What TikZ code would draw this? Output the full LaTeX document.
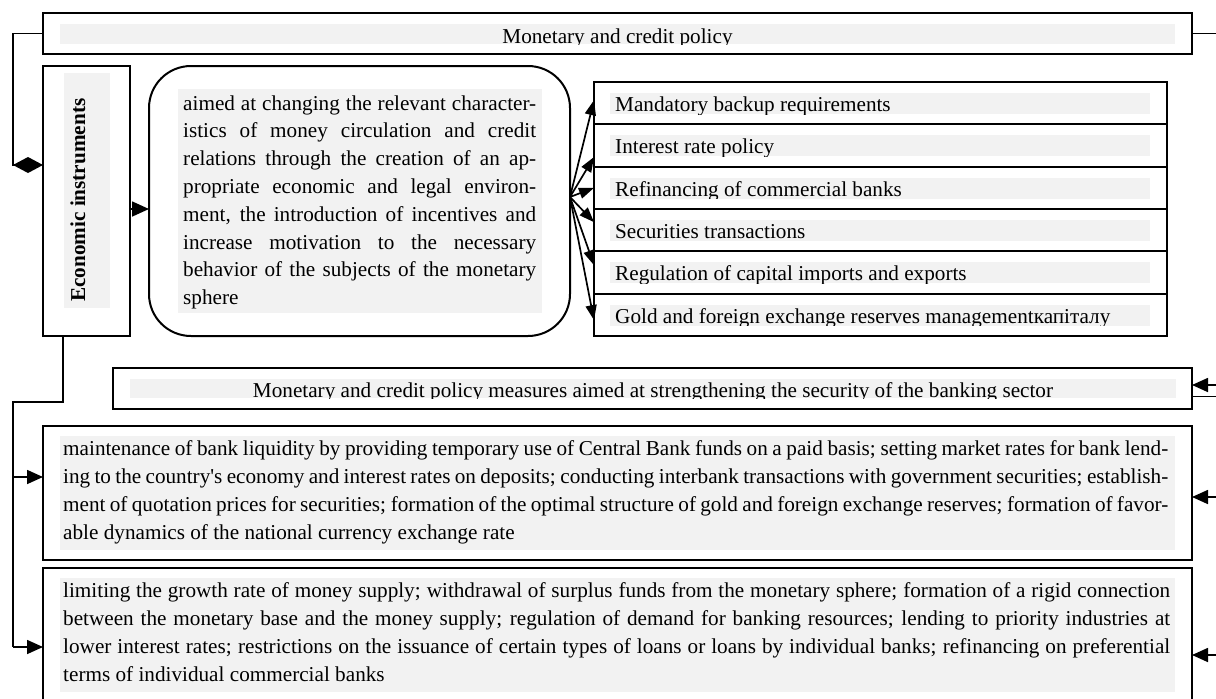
\documentclass[tikz,border=0pt]{standalone}
\usepackage{fontspec}
\setmainfont{Liberation Serif}[Ligatures=TeXOff]
\usetikzlibrary{arrows.meta}
\definecolor{gfill}{RGB}{242,242,242}
\newlength{\myW}
\newcommand{\myjl}[1]{\hbox to \myW{#1}}
\newcommand{\myll}[1]{\hbox{#1}}
\newcommand{\mypar}[3]{\vtop{\myW=#1\relax\baselineskip=#2\relax #3}}
\newcommand{\glab}[9]{%
  \begin{scope}
    \clip (#2,#3) rectangle (#4,#5);
    \fill[gfill] (#2,#3) rectangle (#4,#5);
    \node[inner sep=0pt, anchor=#6] (#1) at (#7,#8) {#9};
  \end{scope}}
\begin{document}
\begin{tikzpicture}[x=1pt, y=-1pt,
  font=\fontsize{21.2}{28}\selectfont,
  box/.style={draw, line width=2pt, inner sep=0pt, outer sep=0pt, anchor=north west},
  conn/.style={line width=1.7pt},
  arr/.style={conn, -{Triangle[length=16pt,width=14pt]}},
  fanarr/.style={conn, -{Triangle[length=15pt,width=11pt]}}]
\useasboundingbox (0,0) rectangle (1216,699);
\clip (0,0) rectangle (1216,699);
\fill[white] (0,0) rectangle (1216,699);

% ---- boxes ----
\node[box, minimum width=1149pt, minimum height=41pt] (top) at (43,13) {};
\node[box, minimum width=87pt, minimum height=270pt] (econ) at (43,66) {};
\node[box, rounded corners=42pt, minimum width=421pt, minimum height=270pt] (aim) at (149,66) {};
\foreach \i/\t in {1/82,2/124.33,3/166.67,4/209,5/251.33,6/293.67}{
  \node[box, minimum width=573pt, minimum height=42.33pt] (r\i) at (594,\t) {};
}
\node[box, minimum width=1079pt, minimum height=41pt] (meas) at (113,368) {};
\node[box, minimum width=1149pt, minimum height=134pt] (p1) at (43,426) {};
\node[box, minimum width=1149pt, minimum height=160pt] (p2) at (43,568) {};

% ---- labels ----
\glab{ttop}{60}{24}{1175}{44}{base}{617.5}{43}{Monetary and credit policy}
\fill[gfill] (64,73) rectangle (110,308);
\node[inner sep=0pt, rotate=90, anchor=base west, font=\fontsize{21.2}{28}\selectfont\bfseries] (tecon) at (85,302) {Economic instruments};
\fill[gfill] (178,89) rectangle (542,313);
\node[inner sep=0pt, anchor=base west] (taim) at (183,110) {\mypar{353pt}{27.8pt}{%
  \myjl{aimed at changing the relevant character-}
  \myjl{istics of money circulation and credit}
  \myjl{relations through the creation of an ap-}
  \myjl{propriate economic and legal environ-}
  \myjl{ment, the introduction of incentives and}
  \myjl{increase motivation to the necessary}
  \myjl{behavior of the subjects of the monetary}
  \myll{sphere}}};
\glab{tr1}{610}{93}{1150}{114}{base west}{615}{111.5}{Mandatory backup requirements}
\glab{tr2}{610}{135.33}{1150}{156.33}{base west}{615}{153.8}{Interest rate policy}
\glab{tr3}{610}{177.67}{1150}{198.67}{base west}{615}{196.2}{Refinancing of commercial banks}
\glab{tr4}{610}{220}{1150}{241}{base west}{615}{238.5}{Securities transactions}
\glab{tr5}{610}{262.33}{1150}{283.33}{base west}{615}{280.8}{Regulation of capital imports and exports}
\glab{tr6}{610}{304.67}{1150}{325.67}{base west}{615}{323.2}{Gold and foreign exchange reserves managementкапіталу}
\glab{tmeas}{130}{379}{1176}{398}{base}{653}{397}{Monetary and credit policy measures aimed at strengthening the security of the banking sector}
\fill[gfill] (60,436) rectangle (1175,550);
\node[inner sep=0pt, anchor=base west] (tp1) at (63,455) {\mypar{1105pt}{28.3pt}{%
  \myjl{maintenance of bank liquidity by providing temporary use of Central Bank funds on a paid basis; setting market rates for bank lend-}
  \myjl{ing to the country's economy and interest rates on deposits; conducting interbank transactions with government securities; establish-}
  \myjl{ment of quotation prices for securities; formation of the optimal structure of gold and foreign exchange reserves; formation of favor-}
  \myll{able dynamics of the national currency exchange rate}}};
\fill[gfill] (60,578) rectangle (1175,692);
\node[inner sep=0pt, anchor=base west] (tp2) at (63,597) {\mypar{1107pt}{28.3pt}{%
  \myjl{limiting the growth rate of money supply; withdrawal of surplus funds from the monetary sphere; formation of a rigid connection}
  \myjl{between the monetary base and the money supply; regulation of demand for banking resources; lending to priority industries at}
  \myjl{lower interest rates; restrictions on the issuance of certain types of loans or loans by individual banks; refinancing on preferential}
  \myll{terms of individual commercial banks}}};

% ---- connectors ----
\coordinate (dk) at (13,165);
\draw[conn, -{Diamond[length=30pt,width=16pt]}] (top.west) -| (dk) -- ([yshift=36pt]econ.west);
\draw[arr, -{Triangle[length=17pt,width=15pt]}] ([yshift=-8pt]econ.east) -- ([yshift=-8pt]aim.west);
\coordinate (fan) at (570,197);
\draw[fanarr] (fan) -- ([yshift=3pt]r1.west);
\draw[fanarr] (fan) -- ([yshift=-11.5pt]r2.west);
\draw[fanarr] (fan) -- ([yshift=0pt]r3.west);
\draw[fanarr] (fan) -- ([yshift=8pt]r4.west);
\draw[fanarr] (fan) -- ([yshift=7.3pt]r5.west);
\draw[fanarr] (fan) -- ([yshift=-5.3pt]r6.west);
\coordinate (j1) at (13,402);
\coordinate (j2) at (13,477);
\coordinate (j3) at (13,647);
\draw[conn] ([xshift=-23.5pt]econ.south) |- (j1) -- (j3);
\draw[arr] (j2) -- (j2 -| p1.west);
\draw[arr] (j3) -- (j3 -| p2.west);
\coordinate (et) at (1216,33.5);
\coordinate (e1) at (1216,385);
\coordinate (e1b) at (1216,396.5);
\coordinate (e2) at (1216,497);
\coordinate (e3) at (1216,655);
\draw[conn] (top.east) -- (et);
\draw[arr] (e1) -- (e1 -| meas.east);
\draw[conn] (e1b -| meas.east) -- (e1b);
\draw[arr] (e2) -- (e2 -| p1.east);
\draw[arr] (e3) -- (e3 -| p2.east);
\end{tikzpicture}
\end{document}
